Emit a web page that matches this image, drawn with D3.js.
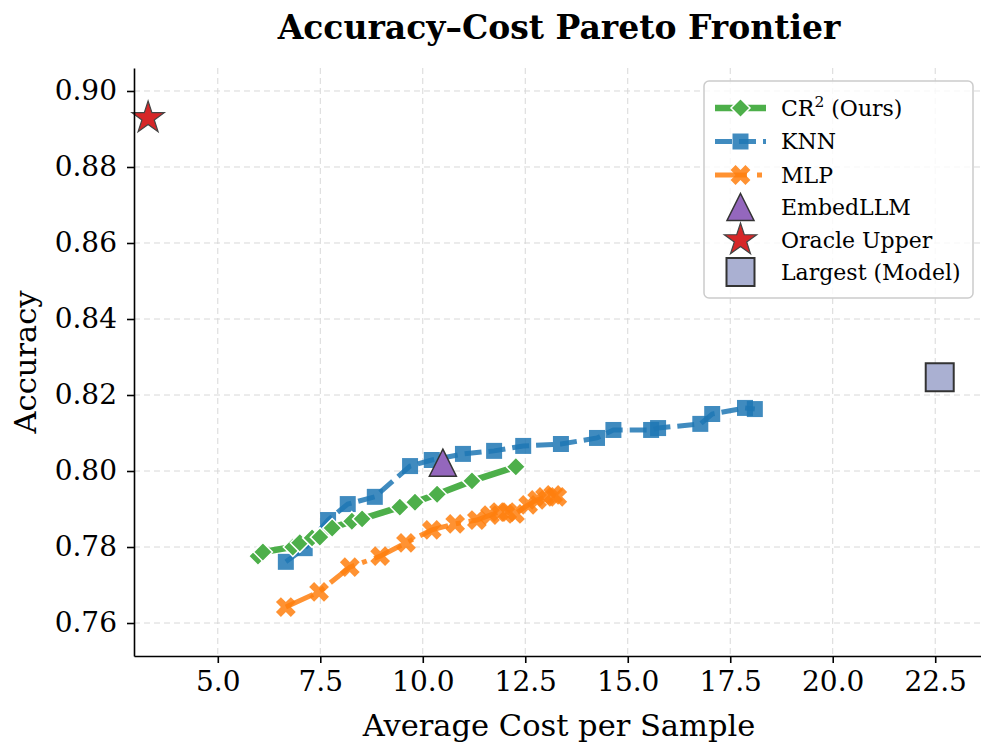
<!DOCTYPE html>
<html><head><meta charset="utf-8">
<script src="https://cdn.jsdelivr.net/npm/d3@7"></script>
<style>body{margin:0;background:#fff} svg{display:block} text{font-family:"DejaVu Serif",serif;fill:#000}</style>
</head><body><svg id="c" width="981" height="747"></svg>
<script>
// ---- data ----
const crX = [5.98, 6.10, 6.83, 7.00, 7.30, 7.49, 7.79, 8.27, 8.52, 9.44, 9.81, 10.35, 11.20, 12.27];
const crY = [0.7776, 0.7787, 0.7800, 0.7811, 0.7824, 0.7826, 0.7850, 0.7868, 0.7874, 0.7905, 0.7918, 0.7939, 0.7974, 0.8011];
const knnX = [6.66, 7.12, 7.69, 8.17, 8.83, 9.69, 10.22, 10.98, 11.74, 12.45, 13.37, 14.25, 14.65, 15.57, 15.74, 16.77, 17.06, 17.86, 18.10];
const knnY = [0.7761, 0.7797, 0.7871, 0.7913, 0.7932, 0.8013, 0.8029, 0.8045, 0.8053, 0.8066, 0.8071, 0.8087, 0.8108, 0.8108, 0.8113, 0.8124, 0.8150, 0.8166, 0.8163];
const mlpX = [6.66, 7.47, 8.22, 8.96, 9.59, 10.22, 10.79, 11.32, 11.64, 11.86, 12.06, 12.25, 12.57, 12.79, 12.98, 13.18, 13.28];
const mlpY = [0.7642, 0.7682, 0.7747, 0.7776, 0.7811, 0.7845, 0.7861, 0.7871, 0.7884, 0.7892, 0.7892, 0.7887, 0.7911, 0.7924, 0.7932, 0.7937, 0.7932];
const embedPoint = [10.49, 0.8022];
const oraclePoint = [3.30, 0.8929];
const largestPoint = [22.61, 0.8247];
const xTicks = [5.0, 7.5, 10.0, 12.5, 15.0, 17.5, 20.0, 22.5];
const yTicks = [0.76, 0.78, 0.80, 0.82, 0.84, 0.86, 0.88, 0.90];
const legendLabels = ["CR^2 (Ours)", "KNN", "MLP", "EmbedLLM", "Oracle Upper", "Largest (Model)"];
const titleText = "Accuracy–Cost Pareto Frontier";
const xLabel = "Average Cost per Sample";
const yLabel = "Accuracy";

// ---- layout ----
const L = 134, R = 984, T = 68, B = 656;
const x = d3.scaleLinear().domain([2.956, 23.69]).range([L, R]);
const y = d3.scaleLinear().domain([0.75132, 0.90605]).range([B, T]);
const svg = d3.select("#c");

const C = {green:"#4daf4a", blue:"#1f77b4", orange:"#ff7f0e", purple:"#9467bd", red:"#d62728", lav:"#aab0d2"};

// grid
const g = svg.append("g");
g.selectAll(".gx").data(xTicks).join("line")
  .attr("x1", d=>x(d)).attr("x2", d=>x(d)).attr("y1", T).attr("y2", B)
  .attr("stroke", "#d8d8d8").attr("stroke-width", 1).attr("stroke-dasharray", "6,4");
g.selectAll(".gy").data(yTicks).join("line")
  .attr("x1", L).attr("x2", R).attr("y1", d=>y(d)).attr("y2", d=>y(d))
  .attr("stroke", "#d8d8d8").attr("stroke-width", 1).attr("stroke-dasharray", "6,4");

// marker shapes
function diamond(r){return `M0,${-r}L${r},0L0,${r}L${-r},0Z`;}
function square(s){const h=s/2;return `M${-h},${-h}H${h}V${h}H${-h}Z`;}
function xMark(r){ // filled X (rotated plus)
  const a=r/3, pts=[[-a,-r],[a,-r],[a,-a],[r,-a],[r,a],[a,a],[a,r],[-a,r],[-a,a],[-r,a],[-r,-a],[-a,-a]];
  const c=Math.SQRT1_2;
  return "M"+pts.map(([px,py])=>[(px-py)*c,(px+py)*c].map(v=>v.toFixed(2)).join(",")).join("L")+"Z";
}
function star(R0){const r=R0*0.381966;let p=[];for(let i=0;i<10;i++){const ang=-Math.PI/2+i*Math.PI/5;const rr=i%2?r:R0;p.push([rr*Math.cos(ang),rr*Math.sin(ang)]);}return "M"+p.map(q=>q.map(v=>v.toFixed(2)).join(",")).join("L")+"Z";}
function tri(h){return `M0,${-h}L${h},${h}L${-h},${h}Z`;}

const line = d3.line().x(d=>x(d[0])).y(d=>y(d[1]));
const zip = (a,b)=>a.map((v,i)=>[v,b[i]]);

const plot = svg.append("g");
// KNN
const knn = zip(knnX, knnY);
plot.append("path").attr("d", line(knn)).attr("fill","none").attr("stroke",C.blue).attr("stroke-opacity",0.85)
  .attr("stroke-width",5).attr("stroke-dasharray","17,7");
plot.selectAll(".knn").data(knn).join("path").attr("d", square(16))
  .attr("transform", d=>`translate(${x(d[0])},${y(d[1])})`).attr("fill",C.blue).attr("fill-opacity",0.85);
// CR2
const cr = zip(crX, crY);
plot.append("path").attr("d", line(cr)).attr("fill","none").attr("stroke",C.green).attr("stroke-width",6.5);
plot.selectAll(".cr").data(cr).join("path").attr("d", diamond(9.5))
  .attr("transform", d=>`translate(${x(d[0])},${y(d[1])})`).attr("fill",C.green).attr("stroke","#fff").attr("stroke-width",1.5);
// MLP
const mlp = zip(mlpX, mlpY);
plot.append("path").attr("d", line(mlp)).attr("fill","none").attr("stroke",C.orange).attr("stroke-opacity",0.85)
  .attr("stroke-width",5).attr("stroke-dasharray","30,8,5,8");
plot.selectAll(".mlp").data(mlp).join("path").attr("d", xMark(10.5))
  .attr("transform", d=>`translate(${x(d[0])},${y(d[1])})`).attr("fill",C.orange).attr("fill-opacity",0.85);
// scatter singles
plot.append("path").attr("d", tri(13.5)).attr("transform",`translate(${x(embedPoint[0])},${y(embedPoint[1])})`)
  .attr("fill",C.purple).attr("stroke","#333").attr("stroke-width",1.5);
plot.append("path").attr("d", star(17)).attr("transform",`translate(${x(oraclePoint[0])},${y(oraclePoint[1])})`)
  .attr("fill",C.red).attr("stroke","#444").attr("stroke-width",1.2);
plot.append("path").attr("d", square(28)).attr("transform",`translate(${x(largestPoint[0])},${y(largestPoint[1])})`)
  .attr("fill",C.lav).attr("stroke","#333").attr("stroke-width",2);

// axes
const ax = svg.append("g").attr("transform",`translate(0,${B})`)
  .call(d3.axisBottom(x).tickValues(xTicks).tickFormat(d3.format(".1f")).tickSize(7).tickPadding(8).tickSizeOuter(0));
const ay = svg.append("g").attr("transform",`translate(${L},0)`)
  .call(d3.axisLeft(y).tickValues(yTicks).tickFormat(d3.format(".2f")).tickSize(7).tickPadding(10).tickSizeOuter(0));
[ax, ay].forEach(a=>{
  a.select(".domain").attr("stroke","#000").attr("stroke-width",1.6);
  a.selectAll(".tick line").attr("stroke","#000").attr("stroke-width",1.6);
  a.selectAll(".tick text").attr("font-family","DejaVu Serif").attr("font-size",28).attr("fill","#000");
});

// labels
svg.append("text").attr("x",(L+R)/2).attr("y",39).attr("text-anchor","middle")
  .attr("font-size",33).attr("font-weight","bold").text(titleText);
svg.append("text").attr("x",(L+R)/2).attr("y",736).attr("text-anchor","middle")
  .attr("font-size",30.5).text(xLabel);
svg.append("text").attr("transform",`translate(36,${(T+B)/2}) rotate(-90)`).attr("text-anchor","middle")
  .attr("font-size",30.5).text(yLabel);

// legend
const lg = svg.append("g");
lg.append("rect").attr("x",704).attr("y",81).attr("width",269).attr("height",217).attr("rx",5)
  .attr("fill","#fff").attr("fill-opacity",0.8).attr("stroke","#ccc").attr("stroke-width",1.5);
const rowsY = [108, 141.5, 175, 207, 240, 272];
const hx0 = 715, hx1 = 766, hm = 740.5;
// CR2
lg.append("line").attr("x1",hx0).attr("x2",hx1).attr("y1",rowsY[0]).attr("y2",rowsY[0]).attr("stroke",C.green).attr("stroke-width",6.5);
lg.append("path").attr("d",diamond(9.5)).attr("transform",`translate(${hm},${rowsY[0]})`).attr("fill",C.green).attr("stroke","#fff").attr("stroke-width",1.5);
// KNN
lg.append("line").attr("x1",hx0).attr("x2",hx1).attr("y1",rowsY[1]).attr("y2",rowsY[1]).attr("stroke",C.blue).attr("stroke-opacity",0.85).attr("stroke-width",5).attr("stroke-dasharray","17,7");
lg.append("path").attr("d",square(16)).attr("transform",`translate(${hm},${rowsY[1]})`).attr("fill",C.blue).attr("fill-opacity",0.85);
// MLP
lg.append("line").attr("x1",hx0).attr("x2",hx1).attr("y1",rowsY[2]).attr("y2",rowsY[2]).attr("stroke",C.orange).attr("stroke-opacity",0.85).attr("stroke-width",5).attr("stroke-dasharray","32,10,5,10");
lg.append("path").attr("d",xMark(10.5)).attr("transform",`translate(${hm},${rowsY[2]})`).attr("fill",C.orange).attr("fill-opacity",0.85);
// singles
lg.append("path").attr("d",tri(13.5)).attr("transform",`translate(${hm},${rowsY[3]})`).attr("fill",C.purple).attr("stroke","#333").attr("stroke-width",1.5);
lg.append("path").attr("d",star(17)).attr("transform",`translate(${hm},${rowsY[4]})`).attr("fill",C.red).attr("stroke","#444").attr("stroke-width",1.2);
lg.append("path").attr("d",square(28)).attr("transform",`translate(${hm},${rowsY[5]})`).attr("fill",C.lav).attr("stroke","#333").attr("stroke-width",2);
lg.selectAll(".lt").data(legendLabels).join("text").attr("x",781).attr("y",(d,i)=>rowsY[i]+7.5)
  .attr("font-size",22).each(function(d){
    const t = d3.select(this);
    const m = d.match(/^(.*)\^(\S)(.*)$/);
    if (m) {
      t.append("tspan").text(m[1]);
      t.append("tspan").attr("font-size",15.5).attr("dy",-9).text(m[2]);
      t.append("tspan").attr("dy",9).text(m[3]);
    } else t.text(d);
  });
</script></body></html>
